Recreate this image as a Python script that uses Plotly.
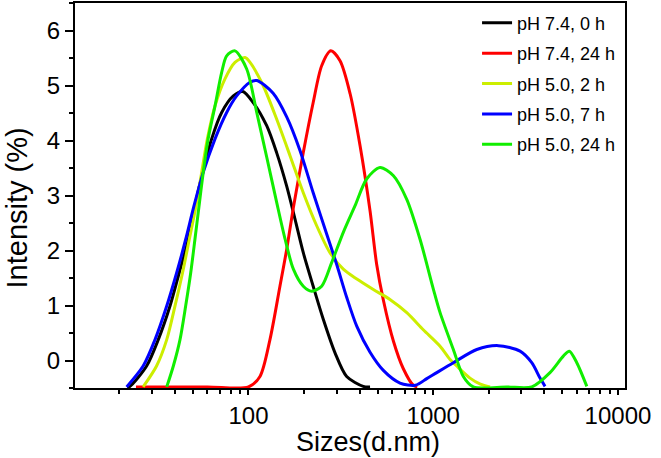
import plotly.graph_objects as go

# Sizes (d.nm) and Intensity (%)
black_x = [22.0, 22.8, 28.1, 32.5, 37.6, 42.2, 47.2, 51.3, 56.5, 63.2, 71.6, 82.8, 93.1, 106, 125.5, 142, 161, 178.6, 198, 224, 254, 294, 340, 418, 455]
black_y = [-0.48, -0.47, -0.10, 0.38, 0.99, 1.60, 2.20, 2.81, 3.42, 4.03, 4.51, 4.81, 4.89, 4.69, 4.27, 3.78, 3.17, 2.57, 1.96, 1.35, 0.75, 0.14, -0.29, -0.47, -0.48]

red_x = [24.6, 60, 100, 115.4, 130.7, 148, 161, 175, 198, 224, 249, 279, 313, 355, 402, 455, 494, 537, 609, 689, 780, 820]
red_y = [-0.48, -0.48, -0.48, -0.29, 0.38, 1.35, 2.02, 2.78, 3.78, 4.69, 5.36, 5.63, 5.45, 4.85, 3.90, 2.72, 1.75, 1.10, 0.35, -0.15, -0.45, -0.48]

yellow_x = [26.9, 31.8, 36.1, 40.0, 44.0, 47.8, 52.0, 55.8, 59.9, 65.9, 74.6, 84.5, 95.8, 102, 120, 142, 168, 198, 234, 276, 326, 386, 474, 583, 719, 883, 1089, 1233, 1340, 1582, 1800, 2031]
yellow_y = [-0.48, -0.10, 0.38, 0.99, 1.60, 2.20, 2.81, 3.42, 4.03, 4.63, 5.12, 5.42, 5.51, 5.42, 5.00, 4.39, 3.72, 3.05, 2.45, 1.96, 1.66, 1.48, 1.29, 1.11, 0.87, 0.56, 0.26, 0.02, -0.10, -0.32, -0.43, -0.48]

blue_x = [21.9, 26.9, 31.2, 36.1, 40.9, 45.7, 50.7, 56.9, 65.9, 76.2, 86.3, 101.9, 111, 136, 161, 190, 224, 265, 300, 340, 386, 455, 537, 661, 800, 923, 1045, 1285, 1721, 2251, 2950, 3414, 3785, 4029]
blue_y = [-0.48, -0.10, 0.38, 0.99, 1.60, 2.20, 2.81, 3.42, 4.03, 4.51, 4.81, 5.06, 5.09, 4.86, 4.43, 3.82, 3.05, 2.30, 1.75, 1.15, 0.62, 0.15, -0.18, -0.41, -0.45, -0.33, -0.22, -0.04, 0.20, 0.27, 0.17, -0.04, -0.32, -0.47]

green_x = [36.1, 39.2, 42.6, 45.7, 48.7, 51.3, 54.0, 56.9, 60.5, 65.9, 71.6, 76.2, 84.5, 97.8, 111, 125.5, 142, 158, 175, 198, 220, 249, 282, 326, 377, 436, 515, 609, 719, 849, 1003, 1089, 1285, 1455, 1648, 2500, 3414, 4285, 5060, 5454, 5985, 6781]
green_y = [-0.48, -0.10, 0.38, 0.99, 1.60, 2.20, 2.81, 3.42, 4.03, 4.63, 5.24, 5.54, 5.63, 5.30, 4.50, 3.70, 2.88, 2.20, 1.66, 1.35, 1.26, 1.35, 1.78, 2.33, 2.81, 3.30, 3.51, 3.36, 2.93, 2.20, 1.29, 0.87, 0.20, -0.29, -0.48, -0.48, -0.48, -0.22, 0.08, 0.17, -0.04, -0.47]

names = ["pH 7.4, 0 h", "pH 7.4, 24 h", "pH 5.0, 2 h", "pH 5.0, 7 h", "pH 5.0, 24 h"]
colors = ["#000000", "#ff0000", "#ccee00", "#0000ff", "#11ee00"]
xs = [black_x, red_x, yellow_x, blue_x, green_x]
ys = [black_y, red_y, yellow_y, blue_y, green_y]

x_tickvals = [100, 1000, 10000]
x_ticktext = ["100", "1000", "10000"]
x_title = "Sizes(d.nm)"
y_title = "Intensity (%)"

fig = go.Figure()
for i, (n, c, x, y) in enumerate(zip(names, colors, xs, ys)):
    fig.add_trace(go.Scatter(x=x, y=y, name=n, mode="lines",
                             line=dict(color=c, width=3, shape="spline", smoothing=0.8),
                             legendgroup=f"g{i}"))

font = "Liberation Sans, Arial, sans-serif"
fig.update_layout(
    width=661, height=458,
    margin=dict(l=75, r=36, t=3, b=70),
    paper_bgcolor="white", plot_bgcolor="white",
    font=dict(family=font, color="black"),
    showlegend=True,
    legend=dict(x=0.731, y=0.996, xanchor="left", yanchor="top",
                bgcolor="rgba(0,0,0,0)", font=dict(size=18, family=font),
                tracegroupgap=4, traceorder="grouped"),
    xaxis=dict(type="log", range=[1.061, 4.038], automargin=False,
               tickvals=x_tickvals, ticktext=x_ticktext,
               ticks="outside", ticklen=5, tickwidth=1.5, tickcolor="black",
               minor=dict(ticks="outside", ticklen=4, tickwidth=1.5, tickcolor="black", dtick="D1", showgrid=False),
               showline=True, linewidth=2, linecolor="black", mirror=True,
               showgrid=False, zeroline=False,
               tickfont=dict(size=24)),
    yaxis=dict(range=[-0.5, 6.5], dtick=1, tick0=0, automargin=False,
               ticks="outside", ticklen=8, tickwidth=1.5, tickcolor="black",
               minor=dict(ticks="outside", ticklen=4, tickwidth=1.5, tickcolor="black", dtick=0.5, showgrid=False),
               showline=True, linewidth=2, linecolor="black", mirror=True,
               showgrid=False, zeroline=False,
               tickfont=dict(size=24)),
    annotations=[
        dict(text=x_title, xref="paper", yref="paper", x=0.5336, y=-0.1403,
             xanchor="center", yanchor="middle", showarrow=False, font=dict(size=27)),
        dict(text=y_title, xref="paper", yref="paper", x=-0.1055, y=0.4688, textangle=-90,
             xanchor="center", yanchor="middle", showarrow=False, font=dict(size=29)),
    ],
)

fig.write_html("out.html", config={"displayModeBar": False},
               post_script="document.body.style.margin='0';")
